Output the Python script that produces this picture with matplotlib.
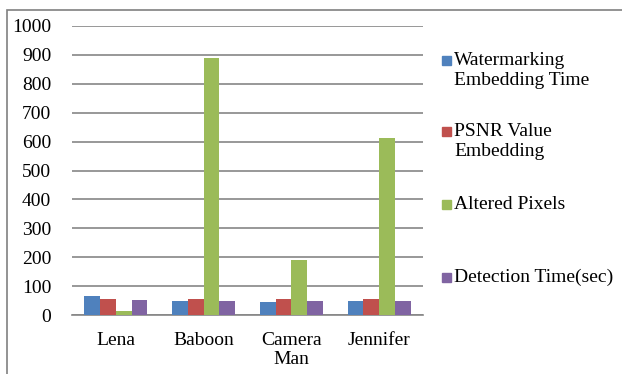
import numpy as np
import matplotlib.pyplot as plt
from matplotlib.patches import Rectangle

images = ["Lena", "Baboon", "Camera\nMan", "Jennifer"]
series_names = ["Watermarking\nEmbedding Time", "PSNR Value\nEmbedding",
                "Altered Pixels", "Detection Time(sec)"]
embed_time = [66, 49, 46, 47]
psnr = [54, 54, 54, 54]
altered = [15, 889, 190, 612]
detect_time = [52, 49, 47, 48]

colors = ["#4F81BD", "#C0504D", "#9BBB59", "#8064A2"]
grid_col = "#868686"

plt.rcParams["font.family"] = "serif"
plt.rcParams["font.serif"] = ["Liberation Serif", "DejaVu Serif"]

fig = plt.figure(figsize=(6.22, 3.74), dpi=100)
ax = fig.add_axes([72 / 622, 1 - 315 / 374, (423 - 72) / 622, (315 - 26) / 374])

x = np.arange(len(images))
width = 0.18
all_vals = [embed_time, psnr, altered, detect_time]
for i, (vals, col) in enumerate(zip(all_vals, colors)):
    ax.bar(x + (i - 1.5) * width, vals, width=width, color=col, zorder=3)

ax.set_xlim(-0.5, len(images) - 0.5)
ax.set_ylim(0, 1000)
ax.set_yticks(range(0, 1001, 100))
ax.set_xticks(x)
ax.set_xticklabels(images, fontsize=14, linespacing=1.2)
ax.tick_params(axis="y", length=0, pad=15, labelsize=14)
ax.tick_params(axis="x", length=0, pad=12)
ax.grid(axis="y", color=grid_col, linewidth=1.2, zorder=0)
for s in ["top", "right", "left"]:
    ax.spines[s].set_visible(False)
ax.spines["bottom"].set_color(grid_col)
ax.spines["bottom"].set_linewidth(1.2)

# legend drawn by hand so the squares sit on the first text line
leg_y = [60, 131, 204, 277]
for name, col, yy in zip(series_names, colors, leg_y):
    fig.patches.append(Rectangle((442 / 622, 1 - (yy + 5) / 374), 9 / 622, 9 / 374,
                                 transform=fig.transFigure, color=col))
    fig.text(454 / 622, 1 - (yy - 8) / 374, name, fontsize=14, va="top", ha="left",
             linespacing=1.25)

# outer frame (only left and top edges fall inside the image)
fig.patches.append(Rectangle((7 / 622, -0.5), 2, 1.5 - 10 / 374, transform=fig.transFigure,
                             fill=False, edgecolor="#808080", linewidth=1.2))

fig.savefig("out.png", dpi=100)
